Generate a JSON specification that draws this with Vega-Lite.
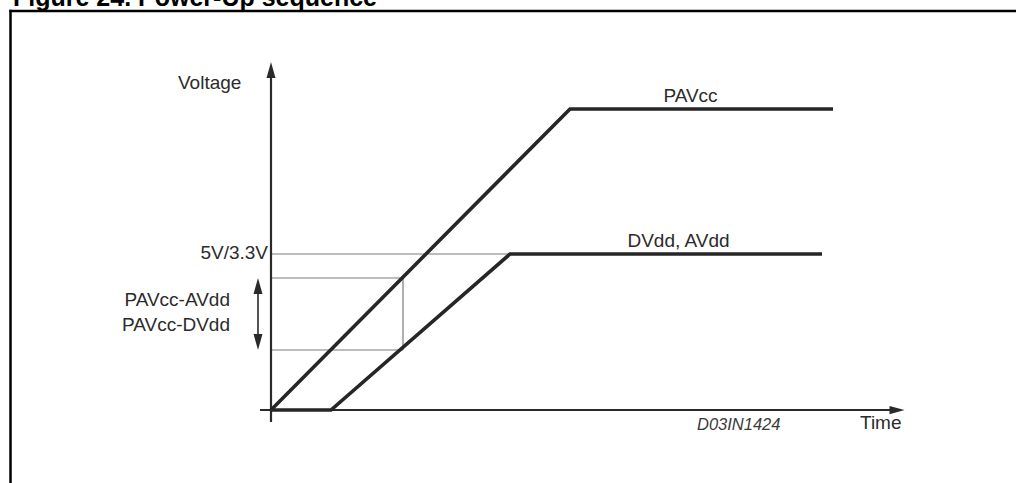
{
  "$schema": "https://vega.github.io/schema/vega-lite/v6.json",
  "width": 1016,
  "height": 483,
  "autosize": {"type": "none"},
  "padding": 0,
  "background": "white",
  "config": {"view": {"stroke": null}, "text": {"font": "Liberation Sans", "color": "#2b2b2b"}},
  "datasets": {
    "frame": [
      {"t1": -26.05, "t2": 80, "v1": 39.9, "v2": 39.9},
      {"t1": -26.05, "t2": -26.05, "v1": 39.9, "v2": -10}
    ],
    "title": [{"label": "Figure 24. Power-Up sequence", "t": -25.8, "v": 40.4}],
    "guides": [
      {"name": "5V/3.3V level", "t1": 0, "t2": 23.9, "v1": 15.6, "v2": 15.6},
      {"name": "box top", "t1": 0, "t2": 13.2, "v1": 13.2, "v2": 13.2},
      {"name": "box bottom", "t1": 0, "t2": 13.2, "v1": 6.0, "v2": 6.0},
      {"name": "box right", "t1": 13.2, "t2": 13.2, "v1": 6.0, "v2": 13.2}
    ],
    "curves": [
      {"series": "PAVcc", "seq": 1, "t": 0, "v": 0},
      {"series": "PAVcc", "seq": 2, "t": 29.9, "v": 30.1},
      {"series": "PAVcc", "seq": 3, "t": 56.2, "v": 30.1},
      {"series": "DVdd, AVdd", "seq": 1, "t": 0, "v": 0},
      {"series": "DVdd, AVdd", "seq": 2, "t": 6.0, "v": 0},
      {"series": "DVdd, AVdd", "seq": 3, "t": 23.9, "v": 15.6},
      {"series": "DVdd, AVdd", "seq": 4, "t": 55.1, "v": 15.6}
    ],
    "axes": [
      {"name": "time axis", "t1": -1.1, "t2": 62.0, "v1": 0, "v2": 0},
      {"name": "voltage axis", "t1": 0, "t2": 0, "v1": -1.2, "v2": 33.5}
    ],
    "span": [{"name": "difference", "t1": -1.3, "t2": -1.3, "v1": 6.6, "v2": 12.6}],
    "arrowUp": [{"t": 0, "v": 34.0}, {"t": -1.3, "v": 12.4}],
    "arrowDown": [{"t": -1.3, "v": 6.8}],
    "arrowRight": [{"t": 62.6, "v": 0}],
    "labelsLeft": [
      {"label": "Voltage", "t": -9.3, "v": 32.07},
      {"label": "Time", "t": 58.9, "v": -1.93}
    ],
    "labelsCenter": [
      {"label": "PAVcc", "t": 41.95, "v": 30.8},
      {"label": "DVdd, AVdd", "t": 40.75, "v": 16.3}
    ],
    "labelsRight": [
      {"label": "5V/3.3V", "t": -0.3, "v": 15.1},
      {"label": "PAVcc-AVdd", "t": -4.1, "v": 10.4},
      {"label": "PAVcc-DVdd", "t": -4.1, "v": 7.95}
    ],
    "code": [{"label": "D03IN1424", "t": 42.6, "v": -2.0}]
  },
  "layer": [
    {
      "data": {"name": "frame"},
      "mark": {"type": "rule", "color": "#000000", "strokeWidth": 2.5, "strokeCap": "square"},
      "encoding": {
        "x": {"field": "t1", "type": "quantitative", "scale": {"domain": [-27.1, 74.5], "nice": false, "zero": false}, "axis": null},
        "x2": {"field": "t2"},
        "y": {"field": "v1", "type": "quantitative", "scale": {"domain": [-7.3, 41], "nice": false, "zero": false}, "axis": null},
        "y2": {"field": "v2"}
      }
    },
    {
      "data": {"name": "title"},
      "mark": {"type": "text", "align": "left", "baseline": "alphabetic", "fontSize": 25, "fontWeight": "bold", "color": "#000000"},
      "encoding": {
        "x": {"field": "t", "type": "quantitative", "scale": {"domain": [-27.1, 74.5], "nice": false, "zero": false}, "axis": null},
        "y": {"field": "v", "type": "quantitative", "scale": {"domain": [-7.3, 41], "nice": false, "zero": false}, "axis": null},
        "text": {"field": "label"}
      }
    },
    {
      "data": {"name": "guides"},
      "mark": {"type": "rule", "color": "#7a7a7a", "strokeWidth": 1.2},
      "encoding": {
        "x": {"field": "t1", "type": "quantitative", "scale": {"domain": [-27.1, 74.5], "nice": false, "zero": false}, "axis": null},
        "x2": {"field": "t2"},
        "y": {"field": "v1", "type": "quantitative", "scale": {"domain": [-7.3, 41], "nice": false, "zero": false}, "axis": null},
        "y2": {"field": "v2"}
      }
    },
    {
      "data": {"name": "axes"},
      "mark": {"type": "rule", "color": "#2a2a2a", "strokeWidth": 2.2},
      "encoding": {
        "x": {"field": "t1", "type": "quantitative", "scale": {"domain": [-27.1, 74.5], "nice": false, "zero": false}, "axis": null},
        "x2": {"field": "t2"},
        "y": {"field": "v1", "type": "quantitative", "scale": {"domain": [-7.3, 41], "nice": false, "zero": false}, "axis": null},
        "y2": {"field": "v2"}
      }
    },
    {
      "data": {"name": "span"},
      "mark": {"type": "rule", "color": "#2a2a2a", "strokeWidth": 1.6},
      "encoding": {
        "x": {"field": "t1", "type": "quantitative", "scale": {"domain": [-27.1, 74.5], "nice": false, "zero": false}, "axis": null},
        "x2": {"field": "t2"},
        "y": {"field": "v1", "type": "quantitative", "scale": {"domain": [-7.3, 41], "nice": false, "zero": false}, "axis": null},
        "y2": {"field": "v2"}
      }
    },
    {
      "data": {"name": "curves"},
      "mark": {"type": "line", "color": "#262626", "strokeWidth": 3.6, "strokeJoin": "miter", "strokeCap": "butt"},
      "encoding": {
        "x": {"field": "t", "type": "quantitative", "scale": {"domain": [-27.1, 74.5], "nice": false, "zero": false}, "axis": null},
        "y": {"field": "v", "type": "quantitative", "scale": {"domain": [-7.3, 41], "nice": false, "zero": false}, "axis": null},
        "detail": {"field": "series"},
        "order": {"field": "seq", "type": "quantitative"}
      }
    },
    {
      "data": {"name": "arrowUp"},
      "mark": {"type": "point", "shape": "M0,-1L0.56,1L-0.56,1Z", "filled": true, "color": "#2a2a2a", "opacity": 1, "size": 256, "strokeWidth": 0},
      "encoding": {
        "x": {"field": "t", "type": "quantitative", "scale": {"domain": [-27.1, 74.5], "nice": false, "zero": false}, "axis": null},
        "y": {"field": "v", "type": "quantitative", "scale": {"domain": [-7.3, 41], "nice": false, "zero": false}, "axis": null}
      }
    },
    {
      "data": {"name": "arrowDown"},
      "mark": {"type": "point", "shape": "M0,1L0.56,-1L-0.56,-1Z", "filled": true, "color": "#2a2a2a", "opacity": 1, "size": 256, "strokeWidth": 0},
      "encoding": {
        "x": {"field": "t", "type": "quantitative", "scale": {"domain": [-27.1, 74.5], "nice": false, "zero": false}, "axis": null},
        "y": {"field": "v", "type": "quantitative", "scale": {"domain": [-7.3, 41], "nice": false, "zero": false}, "axis": null}
      }
    },
    {
      "data": {"name": "arrowRight"},
      "mark": {"type": "point", "shape": "M1,0L-1,0.55L-1,-0.55Z", "filled": true, "color": "#2a2a2a", "opacity": 1, "size": 225, "strokeWidth": 0},
      "encoding": {
        "x": {"field": "t", "type": "quantitative", "scale": {"domain": [-27.1, 74.5], "nice": false, "zero": false}, "axis": null},
        "y": {"field": "v", "type": "quantitative", "scale": {"domain": [-7.3, 41], "nice": false, "zero": false}, "axis": null}
      }
    },
    {
      "data": {"name": "labelsLeft"},
      "mark": {"type": "text", "align": "left", "baseline": "alphabetic", "fontSize": 19},
      "encoding": {
        "x": {"field": "t", "type": "quantitative", "scale": {"domain": [-27.1, 74.5], "nice": false, "zero": false}, "axis": null},
        "y": {"field": "v", "type": "quantitative", "scale": {"domain": [-7.3, 41], "nice": false, "zero": false}, "axis": null},
        "text": {"field": "label"}
      }
    },
    {
      "data": {"name": "labelsCenter"},
      "mark": {"type": "text", "align": "center", "baseline": "alphabetic", "fontSize": 19},
      "encoding": {
        "x": {"field": "t", "type": "quantitative", "scale": {"domain": [-27.1, 74.5], "nice": false, "zero": false}, "axis": null},
        "y": {"field": "v", "type": "quantitative", "scale": {"domain": [-7.3, 41], "nice": false, "zero": false}, "axis": null},
        "text": {"field": "label"}
      }
    },
    {
      "data": {"name": "labelsRight"},
      "mark": {"type": "text", "align": "right", "baseline": "alphabetic", "fontSize": 19},
      "encoding": {
        "x": {"field": "t", "type": "quantitative", "scale": {"domain": [-27.1, 74.5], "nice": false, "zero": false}, "axis": null},
        "y": {"field": "v", "type": "quantitative", "scale": {"domain": [-7.3, 41], "nice": false, "zero": false}, "axis": null},
        "text": {"field": "label"}
      }
    },
    {
      "data": {"name": "code"},
      "mark": {"type": "text", "align": "left", "baseline": "alphabetic", "fontSize": 16.5, "fontStyle": "italic", "color": "#3a3a3a"},
      "encoding": {
        "x": {"field": "t", "type": "quantitative", "scale": {"domain": [-27.1, 74.5], "nice": false, "zero": false}, "axis": null},
        "y": {"field": "v", "type": "quantitative", "scale": {"domain": [-7.3, 41], "nice": false, "zero": false}, "axis": null},
        "text": {"field": "label"}
      }
    }
  ]
}
